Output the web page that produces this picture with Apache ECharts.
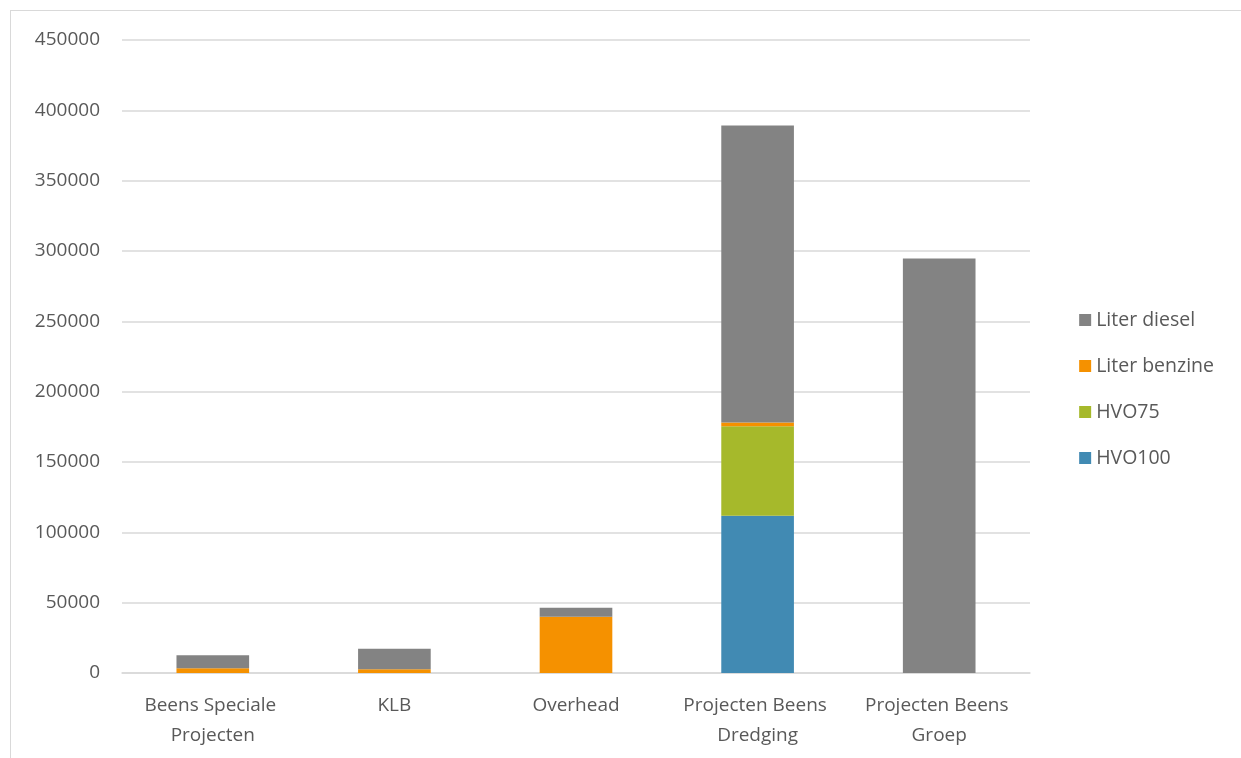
<!DOCTYPE html>
<html>
<head>
<meta charset="utf-8">
<script src="https://cdn.jsdelivr.net/npm/echarts@6/dist/echarts.min.js"></script>
<style>
  html, body { margin: 0; padding: 0; background: #fff; }
  #frame { position: absolute; left: 10px; top: 10px; width: 1240px; height: 760px; border: 1.5px solid #d9d9d9; box-sizing: border-box; }
  #chart { position: absolute; left: 0; top: 0; width: 1241px; height: 758px; }
</style>
</head>
<body>
<div id="frame"></div>
<div id="chart"></div>
<script>
// categorieën en waarden (liters)
var categories = ['Beens Speciale Projecten', 'KLB', 'Overhead', 'Projecten Beens Dredging', 'Projecten Beens Groep'];
var hvo100 = [0, 0, 0, 111800, 0];
var hvo75 = [0, 0, 0, 63700, 0];
var benzine = [3400, 2700, 39900, 2500, 0];
var diesel = [9230, 14500, 6400, 211300, 294700];
var yTicks = { min: 0, max: 450000, interval: 50000 };

var myChart = echarts.init(document.getElementById('chart'));
var font = 'Open Sans';
var option = {
    animation: false,
    grid: {
        left: 122,
        right: 211,
        top: 40,
        bottom: 85
    },
    legend: {
        orient: 'vertical',
        right: 22,
        top: 305,
        itemWidth: 12,
        itemHeight: 12,
        itemGap: 26,
        icon: 'rect',
        textStyle: { color: '#595959', fontSize: 19.5, fontFamily: font },
        data: ['Liter diesel', 'Liter benzine', 'HVO75', 'HVO100']
    },
    xAxis: {
        type: 'category',
        data: categories,
        axisLine: { lineStyle: { color: '#d9d9d9', width: 1.5 } },
        axisTick: { show: false },
        axisLabel: {
            color: '#595959',
            fontSize: 19,
            fontFamily: font,
            margin: 18,
            lineHeight: 30,
            width: 165,
            overflow: 'break',
            interval: 0
        }
    },
    yAxis: {
        type: 'value',
        min: yTicks.min,
        max: yTicks.max,
        interval: yTicks.interval,
        axisLine: { show: false },
        axisTick: { show: false },
        splitLine: { lineStyle: { color: '#d9d9d9', width: 1.5 } },
        axisLabel: {
            color: '#595959', fontSize: 19, fontFamily: font, margin: 22,
            formatter: function (v) { return String(v); }
        }
    },
    series: [
        { name: 'HVO100', type: 'bar', stack: 'totaal', barWidth: '40%', color: '#418AB3', data: hvo100 },
        { name: 'HVO75', type: 'bar', stack: 'totaal', color: '#A6B92B', data: hvo75 },
        { name: 'Liter benzine', type: 'bar', stack: 'totaal', color: '#F59100', data: benzine },
        { name: 'Liter diesel', type: 'bar', stack: 'totaal', color: '#838383', data: diesel }
    ]
};
myChart.setOption(option);
</script>
</body>
</html>
